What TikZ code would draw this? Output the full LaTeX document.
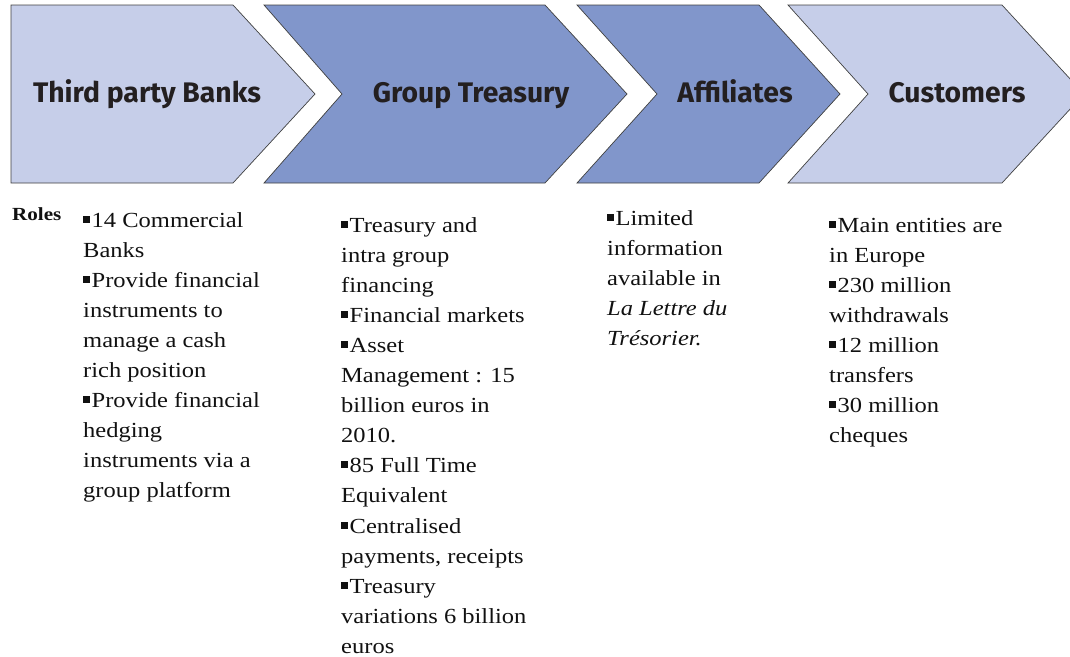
\documentclass[tikz,border=0pt]{standalone}
\usepackage{fontspec}
\setmainfont{Liberation Serif}
\newfontfamily\bodyfont[FakeStretch=1.14]{Liberation Serif}
\newfontfamily\headfont{Fira Sans}
\definecolor{lightchev}{HTML}{C6CEE9}
\definecolor{darkchev}{HTML}{8196CB}
\definecolor{labelink}{HTML}{231F20}
\definecolor{bodyink}{HTML}{111111}
\newcommand{\sqb}{\rule[4.5pt]{7pt}{7pt}\hspace{1.5pt}}
\newcommand{\txtblock}[1]{\parbox[t]{250pt}{\raggedright #1}}
\begin{document}
\begin{tikzpicture}[x=1pt,y=-1pt,
  chev/.style={draw=black!75, line width=0.7pt, line join=miter},
  head/.style={font=\headfont\bfseries\fontsize{28.3}{32}\selectfont, text=labelink, anchor=base, inner sep=0pt},
  body/.style={anchor=base west, inner sep=0pt, text=bodyink, font=\bodyfont\fontsize{21.5}{30.1}\selectfont}]
\useasboundingbox (0,0) rectangle (1070,656);
\clip (0,0) rectangle (1070,656);
% chevrons
\path[chev, fill=lightchev] (11,5) -- (233,5) -- (315,94) -- (233,183) -- (11,183) -- cycle;
\path[chev, fill=darkchev] (264,5) -- (545,5) -- (627,94) -- (545,183) -- (264,183) -- (342,94) -- cycle;
\path[chev, fill=darkchev] (577,5) -- (759,5) -- (840,94) -- (759,183) -- (577,183) -- (657,94) -- cycle;
\path[chev, fill=lightchev] (788,5) -- (1002,5) -- (1084,94) -- (1002,183) -- (788,183) -- (868,94) -- cycle;
% labels
\node[head] (banks) at (147,102) {Third party Banks};
\node[head] (treasury) at (471,102) {Group Treasury};
\node[head] (affiliates) at (735,102) {Affiliates};
\node[head] (customers) at (957,102) {Customers};
% roles
\node[anchor=base west, inner sep=0pt, text=bodyink, font=\bodyfont\bfseries\fontsize{18.5}{22}\selectfont] (roles) at (12,220) {Roles};
\node[body] (col1) at (83,227) {\txtblock{\sqb 14 Commercial\\
Banks\\
\sqb Provide financial\\
instruments to\\
manage a cash\\
rich position\\
\sqb Provide financial\\
hedging\\
instruments via a\\
group platform}};
\node[body] (col2) at (341,232) {\txtblock{\sqb Treasury and\\
intra group\\
financing\\
\sqb Financial markets\\
\sqb Asset\\
Management : 15\\
billion euros in\\
2010.\\
\sqb 85 Full Time\\
Equivalent\\
\sqb Centralised\\
payments, receipts\\
\sqb Treasury\\
variations 6 billion\\
euros}};
\node[body] (col3) at (607,225) {\txtblock{\sqb Limited\\
information\\
available in\\
\textit{La Lettre du}\\
\textit{Trésorier.}}};
\node[body] (col4) at (829,232) {\txtblock{\sqb Main entities are\\
in Europe\\
\sqb 230 million\\
withdrawals\\
\sqb 12 million\\
transfers\\
\sqb 30 million\\
cheques}};
\end{tikzpicture}
\end{document}
